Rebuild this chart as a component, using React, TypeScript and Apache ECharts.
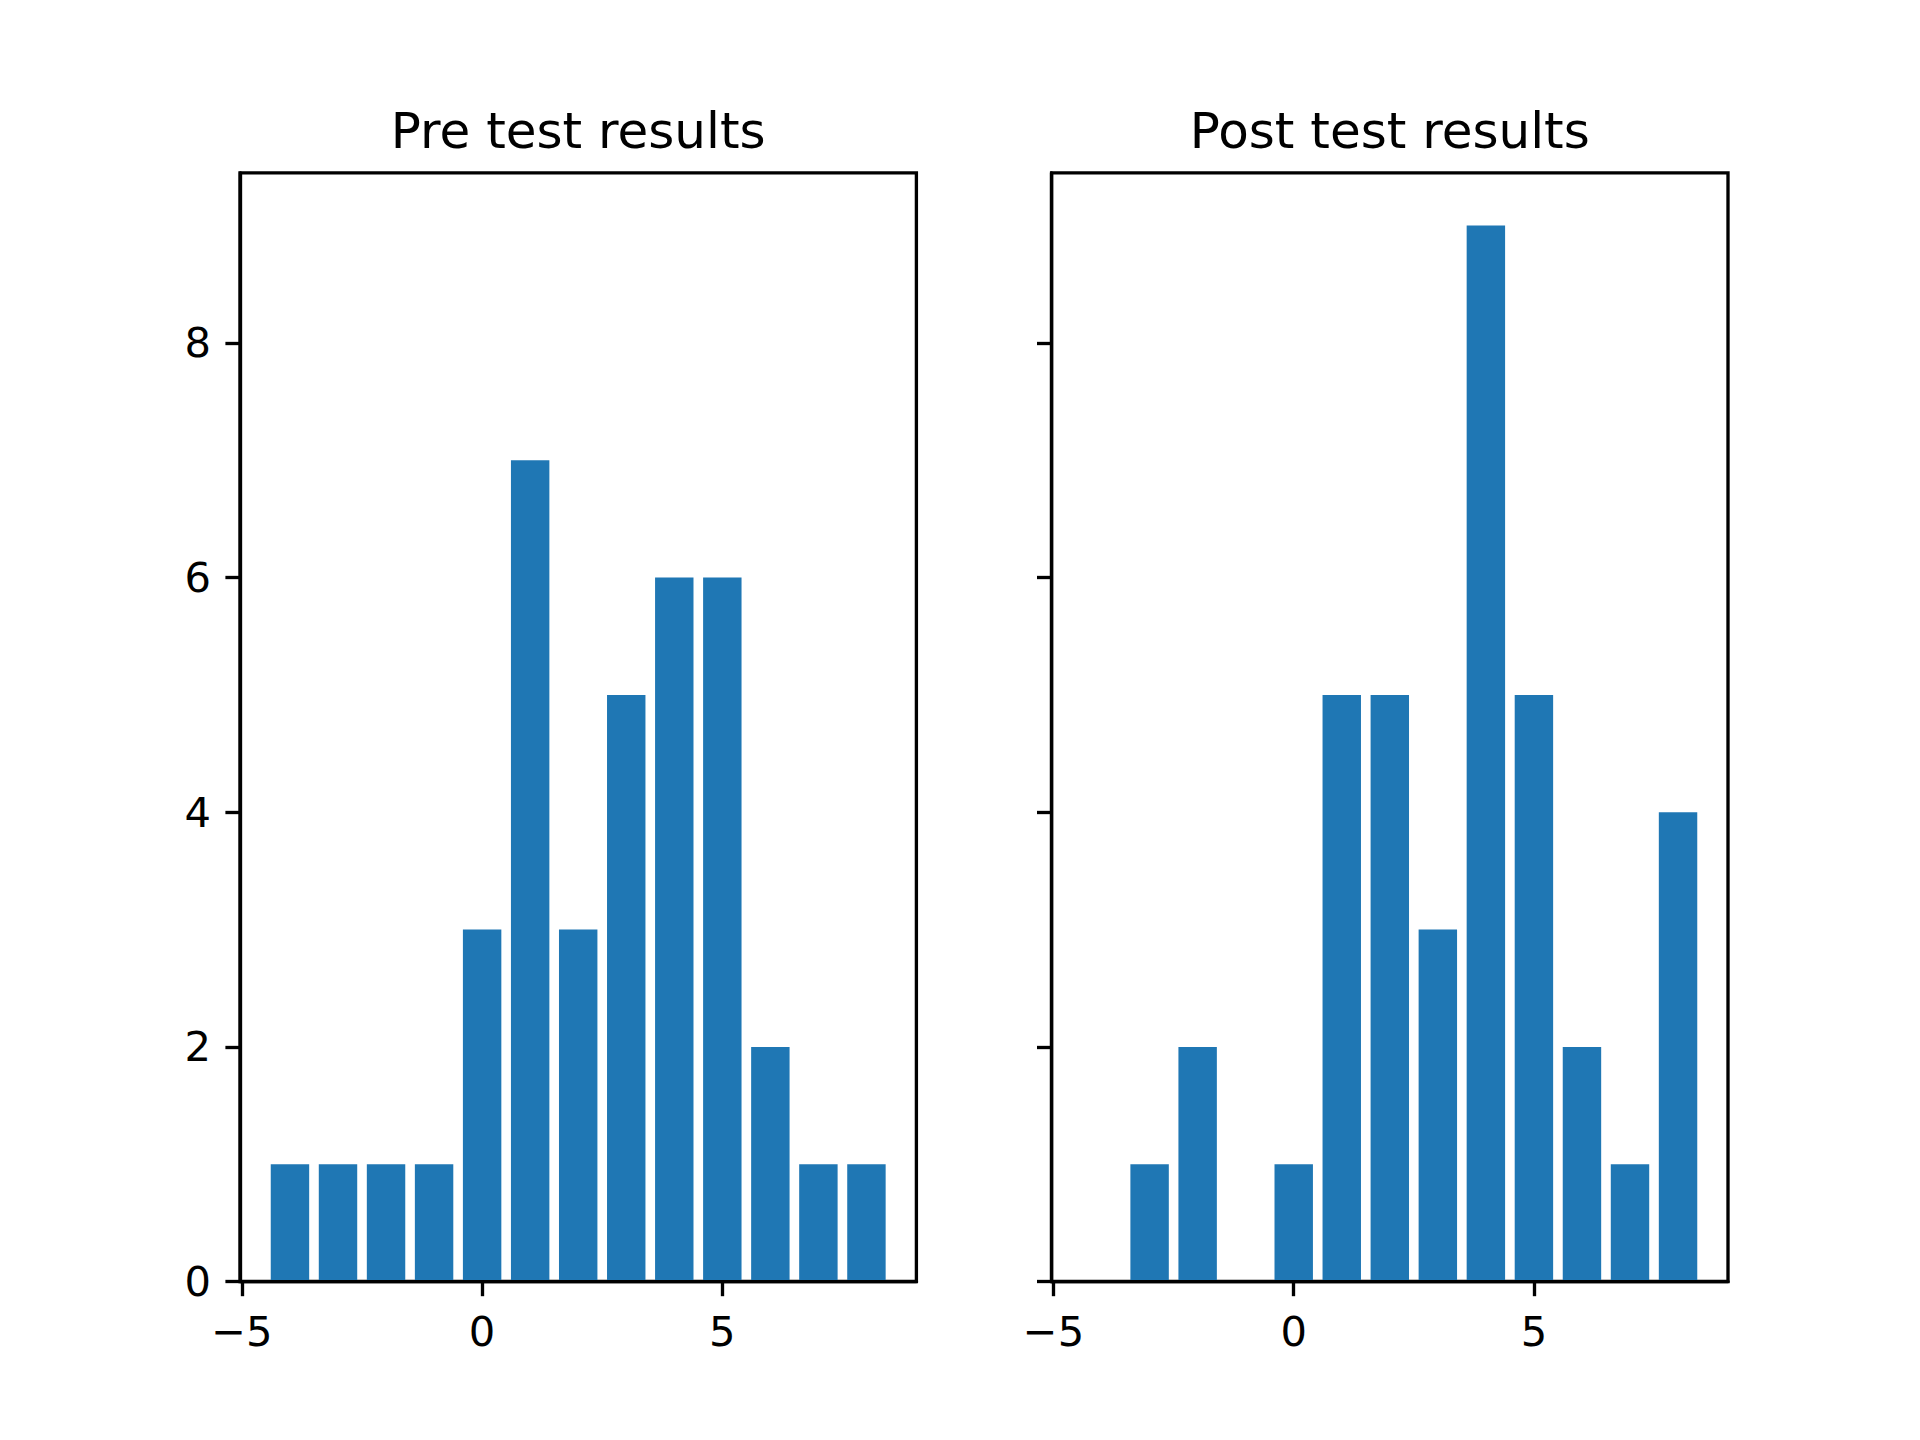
import React, { useEffect, useRef } from "react";
import * as echarts from "echarts";

const binCenters = [-4, -3, -2, -1, 0, 1, 2, 3, 4, 5, 6, 7, 8];
const preCounts = [1, 1, 1, 1, 3, 7, 3, 5, 6, 6, 2, 1, 1];
const postCounts = [0, 1, 2, 0, 1, 5, 5, 3, 9, 5, 2, 1, 4];
const xTicks = [-5, 0, 5];
const yTicks = [0, 2, 4, 6, 8];
const titles = ["Pre test results", "Post test results"];

const BAR_W = 0.8;
const X_MIN = -5.04;
const X_MAX = 9.04;
const Y_MAX = 9.45;

const FONT = "DejaVu Sans";
const LW = 3.33;
const GRID_TOP = 172.8;
const GRID_H = 1108.8;
const GRID_W = 676.4;
const LEFTS = [240, 1051.6];
const BLUE = "#1f77b4";

function renderBar(params: any, api: any) {
  const x = api.value(0);
  const v = api.value(1);
  const p0 = api.coord([x - BAR_W / 2, v]);
  const p1 = api.coord([x + BAR_W / 2, 0]);
  return {
    type: "rect",
    shape: { x: p0[0], y: p0[1], width: p1[0] - p0[0], height: p1[1] - p0[1] },
    style: { fill: BLUE },
  };
}

export default function App() {
  const ref = useRef<HTMLDivElement>(null);
  useEffect(() => {
    if (!ref.current) return;
    const chart = echarts.init(ref.current, null, { renderer: "svg" });
    const datasets = [preCounts, postCounts];
    const option: any = {
      animation: false,
      backgroundColor: "#fff",
      grid: LEFTS.map((l) => ({
        left: l,
        top: GRID_TOP,
        width: GRID_W,
        height: GRID_H,
        show: true,
        borderColor: "#000",
        borderWidth: LW,
        backgroundColor: "transparent",
        z: 10,
      })),
      xAxis: [0, 1].map((i) => ({
        type: "value",
        gridIndex: i,
        min: X_MIN,
        max: X_MAX,
        splitLine: { show: false },
        axisLine: { show: true, onZero: false, lineStyle: { color: "#000", width: LW } },
        axisTick: { show: true, length: 14.6, lineStyle: { color: "#000", width: LW }, customValues: xTicks },
        axisLabel: {
          show: true,
          customValues: xTicks,
          margin: 29,
          fontSize: 41.67,
          fontFamily: FONT,
          color: "#000",
          formatter: (v: number) => String(v).replace("-", "\u2212"),
        },
      })),
      yAxis: [0, 1].map((i) => ({
        type: "value",
        gridIndex: i,
        min: 0,
        max: Y_MAX,
        splitLine: { show: false },
        axisLine: { show: true, onZero: false, lineStyle: { color: "#000", width: LW } },
        axisTick: { show: true, length: 14.6, lineStyle: { color: "#000", width: LW }, customValues: yTicks },
        axisLabel: {
          show: i === 0,
          customValues: yTicks,
          margin: 29,
          fontSize: 41.67,
          fontFamily: FONT,
          color: "#000",
        },
      })),
      series: datasets.map((d, i) => ({
        type: "custom",
        xAxisIndex: i,
        yAxisIndex: i,
        renderItem: renderBar,
        encode: { x: 0, y: 1 },
        data: binCenters.map((c, k) => [c, d[k]]),
        clip: false,
      })),
      graphic: titles.map((t, i) => ({
        type: "text",
        x: LEFTS[i] + GRID_W / 2,
        y: 148 + 8,
        style: {
          text: t,
          fontSize: 50,
          fontFamily: FONT,
          fill: "#000",
          textAlign: "center",
          textVerticalAlign: "bottom",
        },
      })),
    };
    chart.setOption(option);
    return () => chart.dispose();
  }, []);
  return (
    <div
      ref={ref}
      style={{ position: "absolute", left: 0, top: 0, width: 1920, height: 1440 }}
    />
  );
}
